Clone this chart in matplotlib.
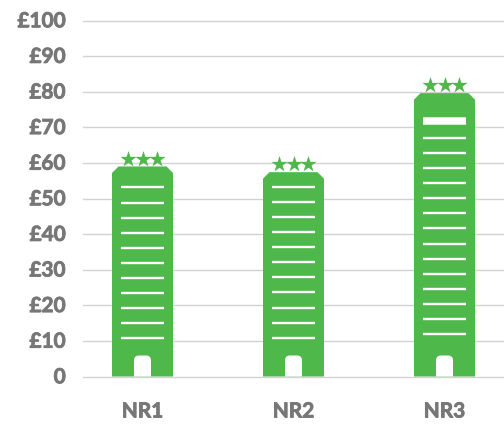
import matplotlib
matplotlib.use("Agg")
import matplotlib.pyplot as plt
import matplotlib.patheffects as pe
from matplotlib.path import Path
from matplotlib.patches import PathPatch
from matplotlib.transforms import ScaledTranslation

categories = ["NR1", "NR2", "NR3"]
values = [59.0, 57.4, 79.6]
y_ticks = [0, 10, 20, 30, 40, 50, 60, 70, 80, 90, 100]
y_labels = ["0", "£10", "£20", "£30", "£40", "£50", "£60", "£70", "£80", "£90", "£100"]
floor_counts = [11, 11, 14]
first_floor = [10.7, 10.9, 11.9]

GREEN = "#4fb84a"
GREY = "#777777"
W, H = 504, 446
X0, X1, Y0, Y100 = 83, 504, 376.5, 20.5
SPACING = 151
CENTRE0 = 142.5

plt.rcParams["font.family"] = ["Lato", "DejaVu Sans"]
fig = plt.figure(figsize=(W / 100, H / 100), dpi=100)
ax = fig.add_axes([X0 / W, 1 - Y0 / H, (X1 - X0) / W, (Y0 - Y100) / H])
ax.set_xlim((X0 - CENTRE0) / SPACING, (X1 - CENTRE0) / SPACING)
ax.set_ylim(0, 100)
for s in ax.spines.values():
    s.set_visible(False)
ax.set_yticks(y_ticks, y_labels)
ax.set_xticks(range(len(categories)), categories)
ax.tick_params(length=0, labelcolor=GREY, labelsize=15)
ax.tick_params(axis="y", pad=12.5)
ax.tick_params(axis="x", pad=18, labelsize=15)
stroke = [pe.withStroke(linewidth=0.6, foreground=GREY)]
for lab in ax.get_xticklabels() + ax.get_yticklabels():
    lab.set_fontweight("bold")
    lab.set_path_effects(stroke)
shift = ScaledTranslation(0, 1.2 / 100, fig.dpi_scale_trans)
for lab in ax.get_yticklabels():
    lab.set_transform(lab.get_transform() + shift)
ax.grid(axis="y", color="#d2d2d2", lw=1.0, zorder=0, clip_on=False)
ax.set_axisbelow(True)

px = 1 / SPACING          # one pixel in x data units
py = 100 / (Y0 - Y100)    # one pixel in y data units
half = 30.5 * px
cx_ch, cy_ch = 6.5 * px, 6.5 * py
step = 4.24

for i, v in enumerate(values):
    # body with chamfered top
    ax.fill([i - half, i - half, i - half + cx_ch, i + half - cx_ch, i + half, i + half],
            [0, v - cy_ch, v, v, v - cy_ch, 0], color=GREEN, lw=0, zorder=2)
    # floors
    for k in range(floor_counts[i]):
        y = first_floor[i] + k * step
        ax.plot([i - 21.5 * px, i + 21.5 * px], [y, y], color="white", lw=1.7,
                solid_capstyle="butt", zorder=3)
    if i == 2:
        y = first_floor[i] + floor_counts[i] * step + 0.6
        ax.plot([i - 21.5 * px, i + 21.5 * px], [y, y], color="white", lw=5.4,
                solid_capstyle="butt", zorder=3)
    # door with rounded top
    dw, dh, r = 8.5 * px, 21 * py, 5 * py
    rx = 5 * px
    verts = [(i - dw, 0), (i - dw, dh - r), (i - dw, dh), (i - dw + rx, dh),
             (i + dw - rx, dh), (i + dw, dh), (i + dw, dh - r), (i + dw, 0), (i - dw, 0)]
    codes = [Path.MOVETO, Path.LINETO, Path.CURVE3, Path.CURVE3, Path.LINETO,
             Path.CURVE3, Path.CURVE3, Path.LINETO, Path.CLOSEPOLY]
    ax.add_patch(PathPatch(Path(verts, codes), facecolor="white", lw=0, zorder=3))
    # stars
    ax.scatter([i - 14.5 * px, i, i + 14.5 * px], [v + 2.2] * 3, marker="*", s=150,
               color=GREEN, linewidths=0, zorder=4, clip_on=False)

fig.savefig("out.png", dpi=100, facecolor="white")
